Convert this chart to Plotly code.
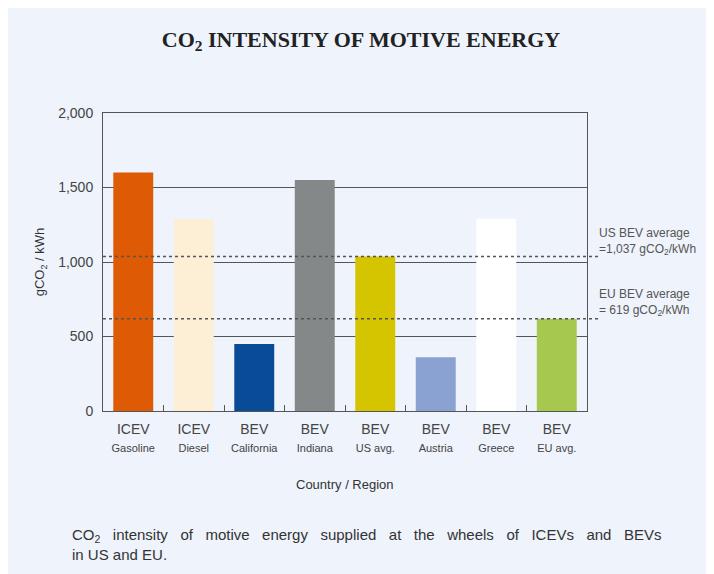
import plotly.graph_objects as go

# categories and values
vehicle = ["ICEV", "ICEV", "BEV", "BEV", "BEV", "BEV", "BEV", "BEV"]
region = ["Gasoline", "Diesel", "California", "Indiana", "US avg.", "Austria", "Greece", "EU avg."]
intensity = [1600, 1290, 450, 1550, 1037, 360, 1290, 619]
bar_colors = ["#df5a05", "#fcefd6", "#0a4b98", "#858888", "#d5c400", "#8aa2d2", "#ffffff", "#a6c84e"]

us_avg = 1037
eu_avg = 619

caption_line1 = "CO<sub>2</sub> intensity of motive energy supplied at the wheels of ICEVs and BEVs"
caption_line2 = "in US and EU."

panel = "#eef3fc"
ink = "#444444"
rule = "#555555"

ticktext = [
    f"{v}<br><span style='font-size:11px'>{r}</span>" for v, r in zip(vehicle, region)
]

fig = go.Figure()
fig.add_trace(
    go.Bar(
        x=region,
        y=intensity,
        marker=dict(color=bar_colors, line=dict(width=0)),
        width=0.66,
        hoverinfo="x+y",
        showlegend=False,
    )
)

# average reference lines run past the frame into the note column
for val in [us_avg, eu_avg]:
    fig.add_shape(
        type="line", xref="paper", yref="y",
        x0=0, x1=1.027, y0=val, y1=val,
        line=dict(color=rule, width=1.5, dash="3px,3px"),
        layer="above",
    )

note_font = dict(family="Liberation Sans, Arial, sans-serif", size=12, color="#555555")
fig.add_annotation(
    xref="paper", yref="y", x=1.02, y=us_avg + 100, xanchor="left", yanchor="middle",
    text="US BEV average<br>=1,037 gCO<sub>2</sub>/kWh", showarrow=False, align="left",
    font=note_font,
)
fig.add_annotation(
    xref="paper", yref="y", x=1.02, y=eu_avg + 112, xanchor="left", yanchor="middle",
    text="EU BEV average<br>= 619 gCO<sub>2</sub>/kWh", showarrow=False, align="left",
    font=note_font,
)

fig.add_annotation(
    xref="paper", yref="paper", x=0.5, y=-0.245, xanchor="center", yanchor="middle",
    text="Country / Region", showarrow=False,
    font=dict(family="Liberation Sans, Arial, sans-serif", size=13, color="#333333"),
)

# caption, first line spread out to mimic the justified block
spread = caption_line1.replace(" ", " &nbsp;&nbsp;")
fig.add_annotation(
    xref="paper", yref="paper", x=-0.068, y=-0.38, xanchor="left", yanchor="top",
    text=spread + "<br>" + caption_line2,
    showarrow=False, align="left",
    font=dict(family="Liberation Sans, Arial, sans-serif", size=15, color="#333333"),
)

fig.update_layout(
    width=706, height=566,
    margin=dict(l=95, r=127, t=105, b=163),
    paper_bgcolor=panel,
    plot_bgcolor=panel,
    bargap=0.34,
    font=dict(family="Liberation Sans, Arial, sans-serif", size=13, color=ink),
    title=dict(
        text="<b>CO<sub>2</sub> INTENSITY OF MOTIVE ENERGY</b>",
        x=0.5, xref="container", xanchor="center", y=0.945, yanchor="middle",
        font=dict(family="Liberation Serif, Times New Roman, serif", size=22, color="#222222"),
    ),
)

fig.update_xaxes(
    tickmode="array", tickvals=region, ticktext=ticktext,
    tickson="boundaries", ticks="inside", ticklen=6, tickcolor=rule,
    showline=True, linecolor=rule, linewidth=1, mirror=True,
    showgrid=False, ticklabelstandoff=5,
    tickfont=dict(size=14, color=ink),
)
fig.update_yaxes(
    range=[0, 2000], dtick=500, tickformat=",",
    showgrid=True, gridcolor=rule, gridwidth=1,
    showline=True, linecolor=rule, linewidth=1, mirror=True,
    ticks="", zeroline=False, ticklabelstandoff=6,
    tickfont=dict(size=14, color=ink),
    title=dict(text="gCO<sub>2</sub> / kWh", standoff=10, font=dict(size=13, color="#333333")),
)

fig.write_html("out.html")
